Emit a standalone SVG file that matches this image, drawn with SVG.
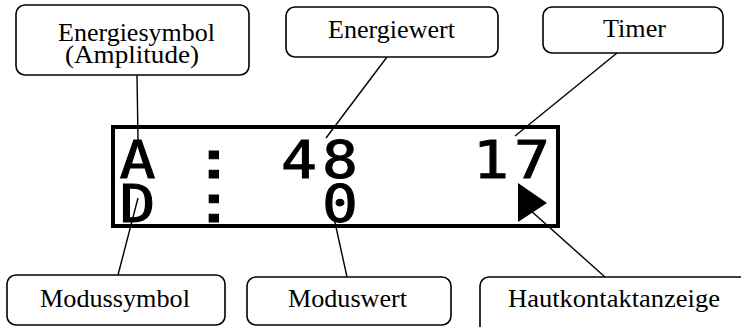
<svg xmlns="http://www.w3.org/2000/svg" width="741" height="327" viewBox="0 0 741 327">
<style>
.box{fill:#fff;stroke:#000;stroke-width:1.6}
.lbl{font-family:'Liberation Serif','Times New Roman','DejaVu Serif',serif;font-size:25px;fill:#000;text-anchor:middle}
.lcd{font-family:'DejaVu Sans Mono','Liberation Mono',monospace;font-weight:normal;font-size:52px;fill:#000;stroke:#000;stroke-width:1;text-anchor:middle}
.con{stroke:#000;stroke-width:1.4;fill:none}
</style>
<rect width="741" height="327" fill="#fff"/>
<g id="display">
<rect x="113" y="127" width="445" height="99" fill="#fff" stroke="#000" stroke-width="4"/>
<text class="lcd" transform="translate(137.5,178) scale(1.15,1)">A</text>
<text class="lcd" transform="translate(214,178) scale(1.4,1)">:</text>
<text class="lcd" transform="translate(299,178) scale(1.15,1)">4</text>
<text class="lcd" transform="translate(340,178) scale(1.15,1)">8</text>
<text class="lcd" transform="translate(491,178) scale(1.15,1)">1</text>
<text class="lcd" transform="translate(532,178) scale(1.15,1)">7</text>
<text class="lcd" transform="translate(137.5,222) scale(1.15,1)">D</text>
<text class="lcd" transform="translate(214,222) scale(1.4,1)">:</text>
<text class="lcd" transform="translate(340,222) scale(1.15,1)">0</text>
<polygon points="518,183 547,203 518,222" fill="#000"/>
</g>
<g id="connectors">
<line class="con" x1="137" y1="75" x2="138" y2="140"/>
<line class="con" x1="387" y1="57" x2="326" y2="138"/>
<line class="con" x1="617" y1="53" x2="515" y2="136"/>
<line class="con" x1="138" y1="198" x2="118" y2="275"/>
<line class="con" x1="334" y1="218" x2="347" y2="277"/>
<line class="con" x1="530" y1="210" x2="605" y2="277"/>
</g>
<g id="energiesymbol">
<rect class="box" x="16" y="5" width="233" height="70" rx="9"/>
<text class="lbl" x="136.5" y="41" textLength="157" lengthAdjust="spacingAndGlyphs">Energiesymbol</text>
<text class="lbl" x="132" y="63" textLength="134" lengthAdjust="spacingAndGlyphs">(Amplitude)</text>
</g>
<g id="energiewert">
<rect class="box" x="286" y="7" width="212" height="50" rx="9"/>
<text class="lbl" x="391.5" y="38" textLength="127" lengthAdjust="spacingAndGlyphs">Energiewert</text>
</g>
<g id="timer">
<rect class="box" x="543" y="7" width="180" height="46" rx="9"/>
<text class="lbl" x="634.5" y="37" textLength="63" lengthAdjust="spacingAndGlyphs">Timer</text>
</g>
<g id="modussymbol">
<rect class="box" x="7" y="275" width="218" height="50" rx="9"/>
<text class="lbl" x="115" y="307" textLength="150" lengthAdjust="spacingAndGlyphs">Modussymbol</text>
</g>
<g id="moduswert">
<rect class="box" x="247" y="277" width="204" height="48" rx="9"/>
<text class="lbl" x="347.5" y="307" textLength="119" lengthAdjust="spacingAndGlyphs">Moduswert</text>
</g>
<g id="hautkontaktanzeige">
<rect class="box" x="480" y="277" width="290" height="70" rx="9"/>
<text class="lbl" x="614" y="307" textLength="212" lengthAdjust="spacingAndGlyphs">Hautkontaktanzeige</text>
</g>
</svg>
